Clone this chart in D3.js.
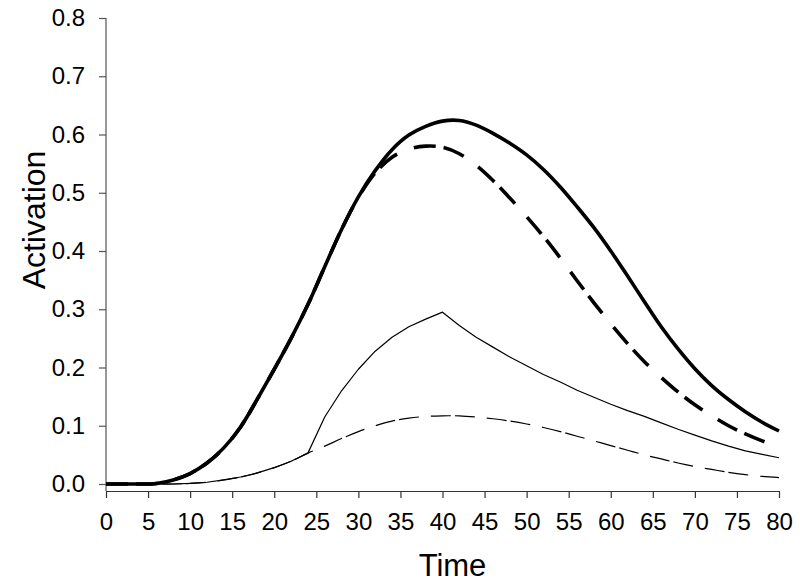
<!DOCTYPE html>
<html>
<head>
<meta charset="utf-8">
<script src="https://cdn.jsdelivr.net/npm/d3@7"></script>
<style>
  body { margin: 0; background: #fff; }
  text { font-family: "Liberation Sans", Arial, sans-serif; fill: #000; }
</style>
</head>
<body>
<div id="chart"></div>
<script>
// time steps (every 2 units)
var time = [0,2,4,6,8,10,12,14,16,18,20,22,24,26,28,30,32,34,36,38,40,
            42,44,46,48,50,52,54,56,58,60,62,64,66,68,70,72,74,76,78,80];

var thickSolid = [0,0,0,0.001,0.007,0.018,0.036,0.062,0.098,0.146,0.197,0.25,0.308,0.373,0.437,0.493,0.538,0.574,0.599,0.614,0.623,
                  0.624,0.616,0.602,0.585,0.565,0.54,0.51,0.476,0.44,0.4,0.357,0.313,0.27,0.232,0.198,0.169,0.145,0.124,0.106,0.091];

var thickDashed = [0,0,0,0.001,0.007,0.018,0.036,0.062,0.098,0.146,0.197,0.25,0.308,0.373,0.437,0.492,0.534,0.561,0.575,0.58,0.578,
                   0.567,0.547,0.521,0.491,0.459,0.425,0.388,0.349,0.311,0.275,0.241,0.21,0.183,0.158,0.136,0.117,0.1,0.086,0.074,0.064];

var thinSolid = [0,0,0,0,0,0.001,0.003,0.007,0.012,0.019,0.028,0.039,0.053,0.115,0.16,0.197,0.228,0.252,0.27,0.283,0.295,
                 0.272,0.252,0.235,0.218,0.203,0.188,0.175,0.161,0.149,0.137,0.126,0.116,0.105,0.094,0.084,0.074,0.065,0.057,0.051,0.045];

var thinDashed = [0,0,0,0,0,0.001,0.003,0.007,0.012,0.019,0.028,0.039,0.053,0.065,0.078,0.09,0.1,0.108,0.113,0.116,0.117,
                  0.117,0.115,0.112,0.108,0.103,0.097,0.09,0.082,0.074,0.066,0.058,0.05,0.043,0.036,0.03,0.025,0.02,0.016,0.013,0.011];

var xTicks = d3.range(0, 81, 5);
var yTicks = [0,0.1,0.2,0.3,0.4,0.5,0.6,0.7,0.8];

var margin = {top: 18, right: 21, bottom: 100, left: 106};
var width = 800 - margin.left - margin.right;
var height = 584 - margin.top - margin.bottom;

var svg = d3.select("#chart")
    .append("svg")
    .attr("width", 800)
    .attr("height", 584)
    .append("g")
    .attr("transform", `translate(${margin.left},${margin.top})`);

var x = d3.scaleLinear().domain([0, 80]).range([0, width]);
var y = d3.scaleLinear().domain([0, 0.8]).range([height, 0]);

var axisGap = 7;

// y axis
var yAxis = svg.append("g")
    .call(d3.axisLeft(y).tickValues(yTicks).tickSize(7).tickSizeOuter(0).tickPadding(14)
        .tickFormat(d3.format(".1f")));
yAxis.select(".domain").remove();
yAxis.append("line")
    .attr("x1", 0).attr("x2", 0)
    .attr("y1", 0).attr("y2", height + axisGap)
    .attr("stroke", "#555").attr("stroke-width", 1.2);
yAxis.selectAll(".tick line").attr("stroke", "#555").attr("stroke-width", 1.2);
yAxis.selectAll(".tick text").attr("font-size", "24px").attr("font-family", "Liberation Sans, Arial, sans-serif");

// x axis, offset slightly below zero
var xAxis = svg.append("g")
    .attr("transform", `translate(0,${height + axisGap})`)
    .call(d3.axisBottom(x).tickValues(xTicks).tickSize(7).tickSizeOuter(0).tickPadding(15));
xAxis.select(".domain").attr("stroke", "#333").attr("stroke-width", 1.2);
xAxis.selectAll(".tick line").attr("stroke", "#333").attr("stroke-width", 1.2);
xAxis.selectAll(".tick text").attr("font-size", "24px").attr("font-family", "Liberation Sans, Arial, sans-serif");

var series = [
    {vals: thinDashed, w: 1.2, dash: "20,4,20,12", curve: d3.curveCatmullRom},
    {vals: thinSolid, w: 1.2, dash: null, curve: d3.curveLinear},
    {vals: thickDashed, w: 3.6, dash: "22,8,22,18", curve: d3.curveCatmullRom},
    {vals: thickSolid, w: 3.6, dash: null, curve: d3.curveCatmullRom}
];

series.forEach(function(s){
    var line = d3.line()
        .x(function(d, i){ return x(time[i]); })
        .y(function(d){ return y(d); })
        .curve(s.curve);
    svg.append("path")
        .datum(s.vals)
        .attr("fill", "none")
        .attr("stroke", "#000")
        .attr("stroke-width", s.w)
        .attr("stroke-dasharray", s.dash)
        .attr("stroke-linejoin", "round")
        .attr("d", line);
});

svg.append("text")
    .attr("text-anchor", "middle")
    .attr("x", width / 2 + 10)
    .attr("y", height + 92)
    .attr("font-size", "31px")
    .text("Time");

svg.append("text")
    .attr("transform", "rotate(-90)")
    .attr("text-anchor", "middle")
    .attr("x", -(220 - margin.top))
    .attr("y", -61)
    .attr("font-size", "32px")
    .text("Activation");
</script>
</body>
</html>
